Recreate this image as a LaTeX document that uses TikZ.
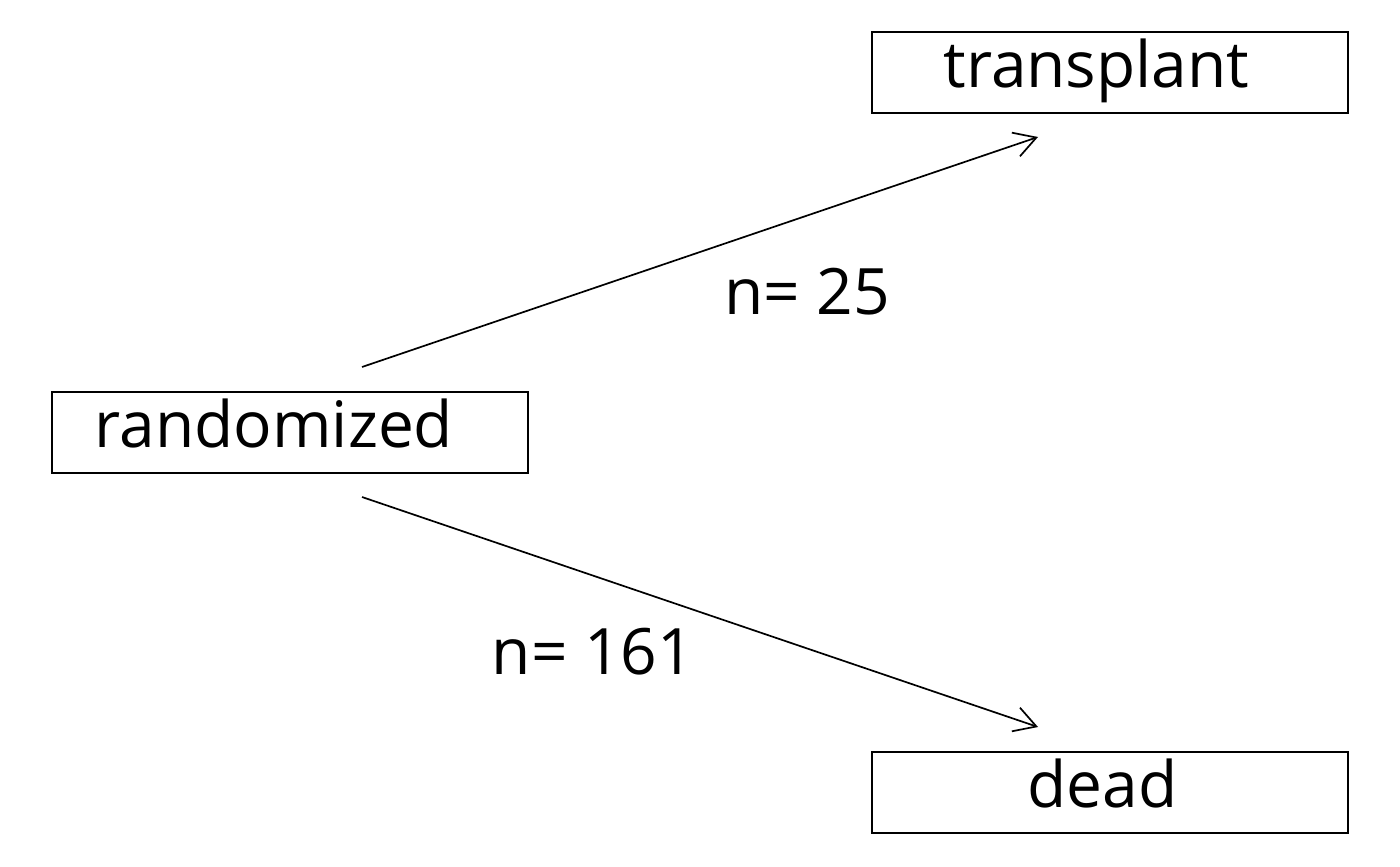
\documentclass[tikz,border=0pt]{standalone}
\usepackage{fontspec}
\setmainfont{Open Sans}
\usetikzlibrary{arrows.meta}
\begin{document}
\begin{tikzpicture}[x=0.5pt, y=-0.5pt,
  statebox/.style={draw, rectangle, line width=1pt, minimum width=238pt, minimum height=40.5pt, inner sep=0pt, text height=15pt, text depth=0pt, font=\fontsize{32}{38}\selectfont},
  flow/.style={line width=0.85pt, -{Straight Barb[angle=60:12.5pt, line width=0.85pt]}},
  count/.style={font=\fontsize{32}{38}\selectfont}]
\useasboundingbox (0,0) rectangle (1400,866);
\node (rand)[statebox] at (290,432.5) {randomized\kern16pt};
\node (trans)[statebox] at (1109.5,72.5) {transplant\kern13pt};
\node (dead)[statebox] at (1109.5,792.5) {dead\kern7pt};
\coordinate (upstart) at (362,367);
\coordinate (upend) at (1038,137);
\coordinate (downstart) at (362,497);
\coordinate (downend) at (1038,727);
\draw [flow](upstart)--(upend);
\draw [flow](downstart)--(downend);
\node (ntrans)[count] at (807,292) {n= 25};
\node (ndead)[count] at (593,652) {n= 161};
\end{tikzpicture}
\end{document}
